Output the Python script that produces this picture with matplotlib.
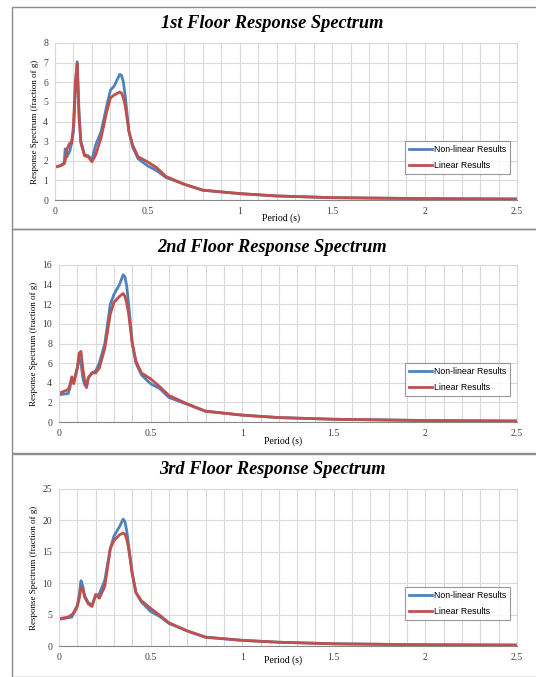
import matplotlib
matplotlib.use("Agg")
import matplotlib.pyplot as plt
from matplotlib.patches import Rectangle
import numpy as np

# period (s) and response values
t1 = [0.01, 0.03, 0.05, 0.055, 0.065, 0.08, 0.09, 0.10, 0.11, 0.12, 0.13, 0.14, 0.16, 0.18, 0.20,
      0.22, 0.25, 0.28, 0.30, 0.32, 0.34, 0.35, 0.36, 0.37, 0.38, 0.40, 0.42, 0.45, 0.50, 0.55,
      0.60, 0.70, 0.80, 1.0, 1.2, 1.5, 2.0, 2.5]
nl1 = [1.70, 1.75, 1.90, 2.60, 2.20, 2.50, 2.90, 3.50, 5.50, 7.05, 4.50, 3.00, 2.30, 2.25, 2.05,
       2.80, 3.50, 4.80, 5.60, 5.80, 6.20, 6.40, 6.35, 6.00, 5.30, 3.50, 2.70, 2.10, 1.75, 1.50,
       1.15, 0.80, 0.50, 0.32, 0.20, 0.12, 0.07, 0.05]
li1 = [1.70, 1.75, 1.85, 2.00, 2.60, 2.90, 2.90, 3.80, 6.00, 6.95, 4.20, 2.90, 2.25, 2.20, 1.95,
       2.30, 3.20, 4.50, 5.20, 5.35, 5.45, 5.50, 5.45, 5.20, 4.80, 3.50, 2.80, 2.20, 1.95, 1.65,
       1.20, 0.80, 0.50, 0.33, 0.21, 0.12, 0.07, 0.05]

t2 = [0.01, 0.05, 0.06, 0.07, 0.08, 0.09, 0.10, 0.11, 0.12, 0.13, 0.14, 0.15, 0.16, 0.18, 0.20,
      0.22, 0.25, 0.28, 0.30, 0.33, 0.35, 0.36, 0.37, 0.38, 0.40, 0.42, 0.45, 0.50, 0.55, 0.60,
      0.70, 0.80, 1.0, 1.2, 1.5, 2.0, 2.5]
nl2 = [2.80, 2.90, 3.50, 4.50, 4.00, 4.80, 5.50, 6.50, 6.00, 4.50, 3.80, 3.60, 4.50, 5.00, 5.20,
       6.00, 8.00, 12.0, 13.0, 14.0, 15.0, 14.8, 13.8, 12.0, 8.00, 6.00, 4.80, 3.90, 3.40, 2.50,
       1.80, 1.10, 0.70, 0.45, 0.28, 0.15, 0.10]
li2 = [3.00, 3.30, 3.80, 4.60, 3.90, 4.70, 5.50, 7.00, 7.20, 5.50, 4.20, 3.50, 4.50, 5.00, 5.00,
       5.50, 7.50, 11.0, 12.2, 12.8, 13.1, 12.8, 12.1, 11.0, 8.00, 6.20, 5.00, 4.40, 3.60, 2.70,
       1.85, 1.10, 0.70, 0.45, 0.28, 0.15, 0.10]

t3 = [0.01, 0.05, 0.07, 0.08, 0.10, 0.11, 0.12, 0.13, 0.14, 0.16, 0.18, 0.20, 0.22, 0.25, 0.28,
      0.30, 0.33, 0.35, 0.36, 0.37, 0.38, 0.40, 0.42, 0.45, 0.50, 0.55, 0.60, 0.70, 0.80, 1.0,
      1.2, 1.5, 2.0, 2.5]
nl3 = [4.30, 4.50, 4.60, 5.30, 6.50, 8.00, 10.4, 9.50, 8.00, 6.90, 6.50, 8.00, 8.30, 10.5, 15.5,
       17.5, 19.0, 20.2, 19.8, 18.3, 16.0, 11.5, 8.50, 7.00, 5.50, 4.70, 3.60, 2.40, 1.40, 0.90,
       0.60, 0.35, 0.20, 0.15]
li3 = [4.40, 4.60, 5.00, 5.20, 6.30, 7.50, 9.30, 9.00, 7.80, 6.70, 6.30, 8.20, 7.60, 9.50, 15.5,
       16.8, 17.7, 18.0, 17.8, 17.0, 15.5, 11.5, 8.50, 7.20, 6.00, 4.90, 3.70, 2.40, 1.40, 0.90,
       0.60, 0.35, 0.20, 0.15]

titles = ["1st Floor Response Spectrum", "2nd Floor Response Spectrum", "3rd Floor Response Spectrum"]
ymaxes = [8, 16, 25]
ysteps = [1, 2, 5]

W, H = 536, 677
fig = plt.figure(figsize=(W / 100, H / 100), dpi=100)

# pixel boxes: (left, right, top, bottom) of plot area, panel top, title y, xlabel y
boxes = [(55, 517, 43, 200, 7, 23, 218),
         (59, 517, 265, 422, 229, 248, 441),
         (59, 517, 489, 646, 454, 470, 660)]
panel_bottoms = [229, 453, 677]

data = [(t1, nl1, li1), (t2, nl2, li2), (t3, nl3, li3)]
blue = "#4F81BD"
red = "#C0504D"

for i in range(3):
    l, r, top, bot, ptop, ty, xly = boxes[i]
    # panel frame
    fig.patches.append(Rectangle((12 / W, 1 - panel_bottoms[i] / H), (W - 12) / W + 0.01,
                                 (panel_bottoms[i] - ptop) / H, transform=fig.transFigure,
                                 fill=False, edgecolor="#8C8C8C", lw=1.0))
    ax = fig.add_axes([l / W, 1 - bot / H, (r - l) / W, (bot - top) / H])
    t, nl, li = data[i]
    ax.plot(t, nl, color=blue, lw=2.0, label="Non-linear Results", solid_joinstyle="round")
    ax.plot(t, li, color=red, lw=2.0, label="Linear Results", solid_joinstyle="round")
    ax.set_xlim(0, 2.5)
    ax.set_ylim(0, ymaxes[i])
    ax.set_xticks([0, 0.5, 1, 1.5, 2, 2.5])
    ax.set_xticklabels(["0", "0.5", "1", "1.5", "2", "2.5"])
    ax.set_xticks(np.arange(0, 2.51, 0.1), minor=True)
    ax.set_yticks(np.arange(0, ymaxes[i] + 0.1, ysteps[i]))
    ax.grid(True, which="both", axis="x", color="#D9D9D9", lw=0.8)
    ax.grid(True, which="major", axis="y", color="#D9D9D9", lw=0.8)
    ax.set_axisbelow(True)
    ax.tick_params(which="both", length=0, labelsize=7, pad=5, labelcolor="#404040")
    for lab in ax.get_xticklabels() + ax.get_yticklabels():
        lab.set_family("Liberation Serif")
    for s in ax.spines.values():
        s.set_color("#D9D9D9")
        s.set_linewidth(0.8)
    ax.spines["bottom"].set_color("#868686")
    ax.set_ylabel("Response Spectrum (fraction of g)", family="Liberation Serif", fontsize=6.5,
                  labelpad=3)
    fig.text((l + r) / 2 / W - 0.01, 1 - xly / H, "Period (s)", family="Liberation Serif",
             fontsize=7, ha="center", va="center")
    fig.text(272 / W, 1 - ty / H, titles[i], family="Liberation Serif", fontsize=13.2,
             weight="bold", style="italic", ha="center", va="center")
    leg = ax.legend(loc="center right", bbox_to_anchor=(0.995, 0.27),
                    prop={"family": "Liberation Sans", "size": 6.3}, frameon=True, fancybox=False,
                    edgecolor="#7F7F7F", handlelength=2.6, borderpad=0.5, labelspacing=0.8,
                    handletextpad=0.2)
    leg.get_frame().set_linewidth(0.8)

fig.savefig("out.png", dpi=100, facecolor="white")
